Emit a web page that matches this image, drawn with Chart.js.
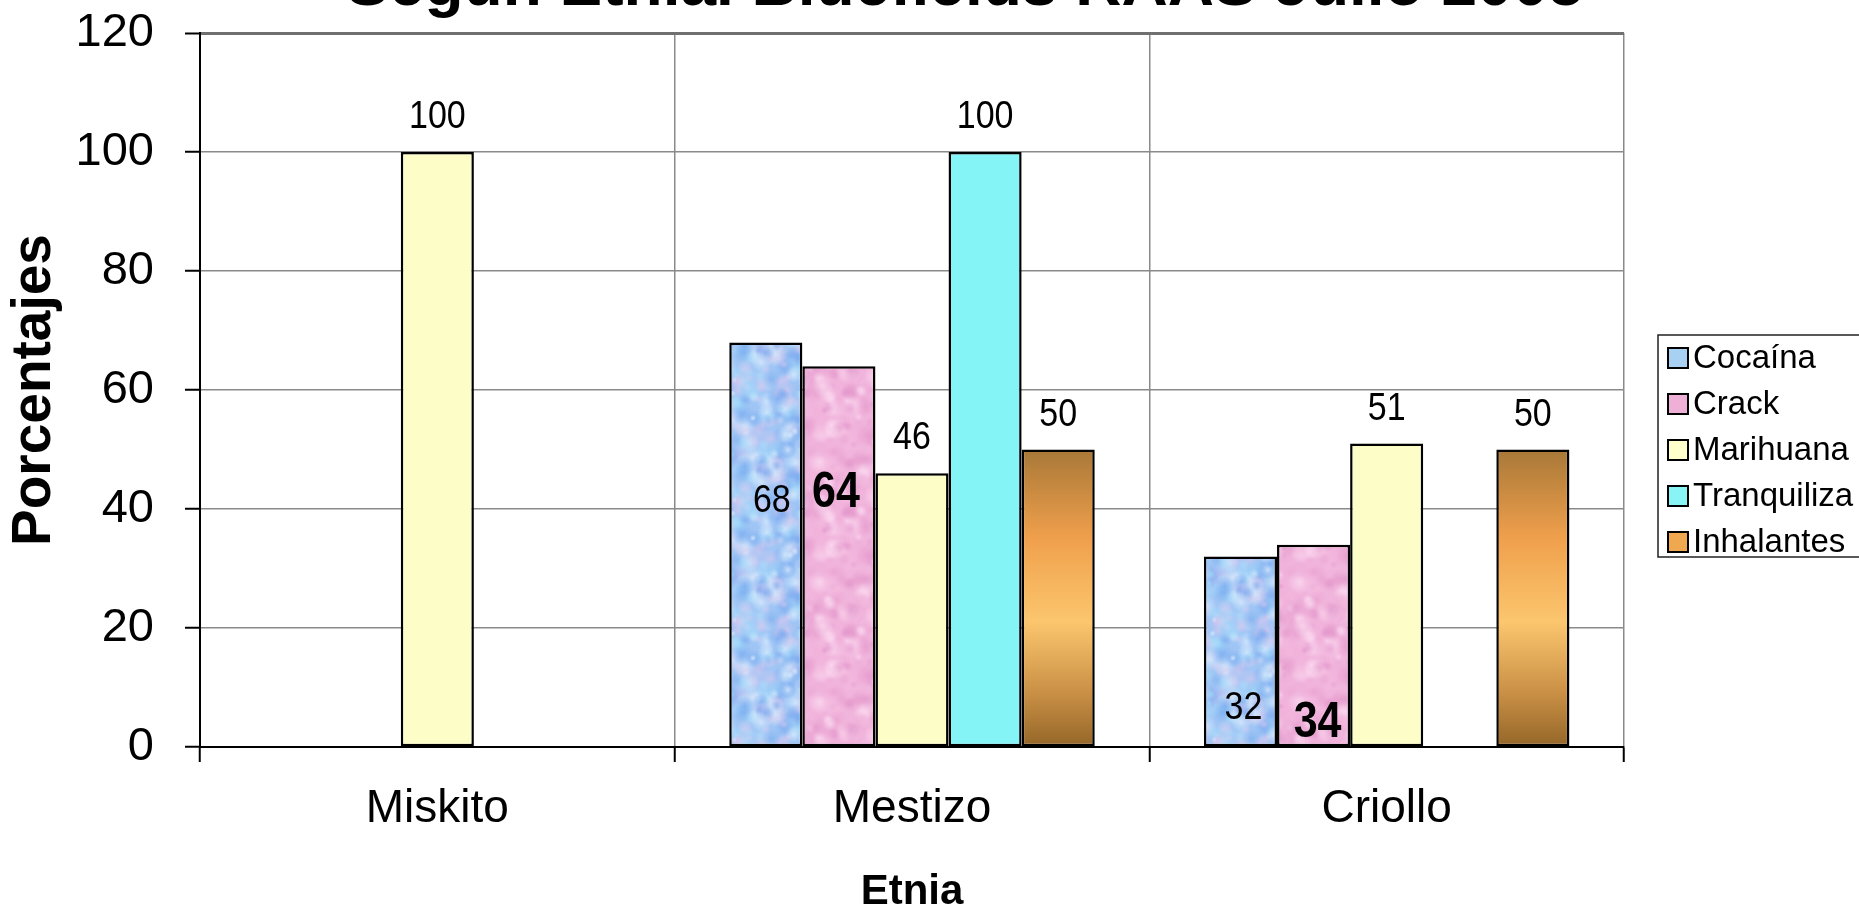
<!DOCTYPE html>
<html>
<head>
<meta charset="utf-8">
<script src="https://cdn.jsdelivr.net/npm/chart.js@4/dist/chart.umd.min.js"></script>
<style>
  html, body { margin: 0; padding: 0; background: #fff; overflow: hidden; }
  #wrap { position: relative; width: 1859px; height: 915px; }
</style>
</head>
<body>
<div id="wrap"><canvas id="c" width="1859" height="915"></canvas></div>
<script>
// ---- data ----
const chartTitle = 'Según Etnia. Bluefields RAAS Julio 2005';
const etnias = ['Miskito', 'Mestizo', 'Criollo'];
const seriesNames = ['Cocaína', 'Crack', 'Marihuana', 'Tranquiliza', 'Inhalantes'];
const cocaina = [null, 68, 32];
const crack = [null, 64, 34];
const marihuana = [100, 46, 51];
const tranquilizantes = [null, 100, null];
const inhalantes = [null, 50, 50];
const yTicks = [0, 20, 40, 60, 80, 100, 120];
const yTitle = 'Porcentajes';
const xTitle = 'Etnia';

const FONT = '"Liberation Sans", Arial, Helvetica, sans-serif';
const canvas = document.getElementById('c');
const ctx2d = canvas.getContext('2d');

// Soft mottled fill, tiled as a repeating pattern
function mottle(base, spots, seed) {
  const N = 120;
  const c = document.createElement('canvas');
  c.width = c.height = N;
  const g = c.getContext('2d');
  g.fillStyle = base;
  g.fillRect(0, 0, N, N);
  let s = seed;
  const next = () => (s = (s * 16807) % 2147483647) / 2147483647;
  for (let i = 0; i < 240; i++) {
    const x = next() * N, y = next() * N, r = 3 + next() * 10;
    const [cr, cg, cb, ca] = spots[Math.floor(next() * spots.length)];
    for (const dx of [-N, 0, N]) for (const dy of [-N, 0, N]) {
      const rg = g.createRadialGradient(x + dx, y + dy, 0, x + dx, y + dy, r);
      rg.addColorStop(0, `rgba(${cr},${cg},${cb},${ca})`);
      rg.addColorStop(1, `rgba(${cr},${cg},${cb},0)`);
      g.fillStyle = rg;
      g.fillRect(x + dx - r, y + dy - r, 2 * r, 2 * r);
    }
  }
  return ctx2d.createPattern(c, 'repeat');
}

const cocainaFill = mottle('#9fc5f5', [
  [214, 234, 252, 0.85], [112, 164, 238, 0.6], [238, 200, 236, 0.45], [168, 222, 250, 0.6]
], 11);
const crackFill = mottle('#f1b3db', [
  [251, 216, 240, 0.85], [224, 146, 200, 0.55], [244, 188, 224, 0.6], [236, 170, 214, 0.5]
], 29);

// Vertical bronze gradient spanning each bar
function inhalantesFill(ctx) {
  const ys = ctx.chart.scales.y;
  if (!ys || ctx.raw == null) return '#f0a850';
  const top = ys.getPixelForValue(ctx.raw);
  const bot = ys.getPixelForValue(0);
  if (!isFinite(top) || !isFinite(bot)) return '#f0a850';
  const g = ctx.chart.ctx.createLinearGradient(0, top, 0, bot);
  g.addColorStop(0, '#a87838');
  g.addColorStop(0.3, '#f0a04c');
  g.addColorStop(0.58, '#fbc66e');
  g.addColorStop(0.82, '#c98f45');
  g.addColorStop(1, '#946628');
  return g;
}

const swatchColors = ['#a8d0f2', '#eeb0d6', '#ffffcc', '#88f4f6', '#f0a850'];

function series(i, data, fill) {
  return {
    label: seriesNames[i],
    data: data,
    backgroundColor: fill,
    borderColor: '#000',
    borderWidth: 2.5,
    borderSkipped: false,
    swatch: swatchColors[i]
  };
}

// Title, partly above the top edge of the canvas
const titlePlugin = {
  id: 'topTitle',
  afterDraw(chart, args, opts) {
    const c = chart.ctx;
    c.save();
    c.font = `bold ${opts.size}px ${FONT}`;
    c.fillStyle = '#000';
    c.textAlign = 'center';
    c.textBaseline = 'alphabetic';
    c.fillText(opts.text, opts.x, opts.baseline);
    c.restore();
  }
};

// Boxed legend on the right
const boxLegend = {
  id: 'boxLegend',
  afterDraw(chart, args, o) {
    const c = chart.ctx;
    c.save();
    c.strokeStyle = '#222';
    c.lineWidth = 1.5;
    c.strokeRect(o.left, o.top, o.width, o.height);
    c.font = `${o.fontSize}px ${FONT}`;
    c.textBaseline = 'middle';
    c.textAlign = 'left';
    chart.data.datasets.forEach((ds, i) => {
      const cy = o.firstY + i * o.step;
      c.fillStyle = ds.swatch;
      c.fillRect(o.left + 10, cy - o.box / 2, o.box, o.box);
      c.strokeStyle = '#000';
      c.lineWidth = 2;
      c.strokeRect(o.left + 10, cy - o.box / 2, o.box, o.box);
      c.fillStyle = '#000';
      c.fillText(ds.label, o.left + 10 + o.box + 5, cy + 1);
    });
    c.restore();
  }
};

// Value labels: above each bar, or at a placed spot inside it
const valueLabels = {
  id: 'valueLabels',
  afterDatasetsDraw(chart, args, o) {
    const c = chart.ctx;
    c.save();
    c.fillStyle = '#000';
    c.textAlign = 'center';
    chart.data.datasets.forEach((ds, di) => {
      const meta = chart.getDatasetMeta(di);
      meta.data.forEach((bar, pi) => {
        const v = ds.data[pi];
        if (v == null) return;
        const place = (o.inside[di] || {})[pi];
        c.save();
        if (place) {
          c.font = place.font;
          c.textBaseline = 'middle';
          c.translate(bar.x + place.dx, bar.y + place.dy);
        } else {
          c.font = o.font;
          c.textBaseline = 'alphabetic';
          c.translate(bar.x, bar.y - o.gap);
        }
        c.scale(1, o.stretch);
        c.fillText(String(v), 0, 0);
        c.restore();
      });
    });
    c.restore();
  }
};

const labelFont = `34px ${FONT}`;
const bigLabelFont = `bold 43px ${FONT}`;

new Chart(canvas, {
  type: 'bar',
  data: {
    labels: etnias,
    datasets: [
      series(0, cocaina, cocainaFill),
      series(1, crack, crackFill),
      series(2, marihuana, '#fdfdc8'),
      series(3, tranquilizantes, '#84f4f6'),
      series(4, inhalantes, inhalantesFill)
    ]
  },
  options: {
    responsive: false,
    animation: false,
    devicePixelRatio: 1,
    layout: { padding: { top: 33, right: 235, left: 0, bottom: 0 } },
    datasets: { bar: { categoryPercentage: 0.77, barPercentage: 1.0 } },
    scales: {
      x: {
        grid: { offset: true, color: '#8a8a8a', lineWidth: 1.5, tickLength: 15, tickColor: '#000', tickWidth: 2 },
        border: { color: '#000', width: 2 },
        ticks: { color: '#000', font: { family: FONT, size: 46 }, padding: 20 },
        title: { display: true, text: xTitle, color: '#000', font: { family: FONT, size: 42, weight: 'bold', lineHeight: 1 }, padding: { top: 0, bottom: 2 } },
        afterFit: s => { s.height = 168; s.paddingLeft = 0; s.paddingRight = 0; }
      },
      y: {
        min: yTicks[0],
        max: yTicks[yTicks.length - 1],
        afterBuildTicks: s => { s.ticks = yTicks.map(v => ({ value: v })); },
        grid: {
          color: c => (c.tick && c.tick.value === yTicks[yTicks.length - 1]) ? '#707070' : '#8a8a8a',
          lineWidth: c => (c.tick && c.tick.value === yTicks[yTicks.length - 1]) ? 3 : 1.5,
          tickLength: 15, tickColor: '#000', tickWidth: 2
        },
        border: { color: '#000', width: 2 },
        ticks: { color: '#000', font: { family: FONT, size: 47 }, padding: 31 },
        title: { display: true, text: yTitle, color: '#000', font: { family: FONT, size: 55, weight: 'bold', lineHeight: 1 }, padding: { top: 7, bottom: 0 } },
        afterFit: s => { s.width = 200; s.paddingTop = 0; s.paddingBottom = 0; }
      }
    },
    plugins: {
      legend: { display: false },
      tooltip: { enabled: false },
      topTitle: { text: chartTitle, size: 64, x: 965, baseline: 5 },
      boxLegend: { left: 1658, top: 335, width: 230, height: 222, firstY: 358, step: 46, box: 20, fontSize: 33 },
      valueLabels: {
        font: labelFont,
        gap: 24,
        stretch: 1.15,
        inside: {
          0: { 1: { dx: 6, dy: 159, font: labelFont }, 2: { dx: 3, dy: 152, font: labelFont } },
          1: { 1: { dx: -3, dy: 127, font: bigLabelFont }, 2: { dx: 4, dy: 179, font: bigLabelFont } }
        }
      }
    }
  },
  plugins: [titlePlugin, boxLegend, valueLabels]
});
</script>
</body>
</html>
